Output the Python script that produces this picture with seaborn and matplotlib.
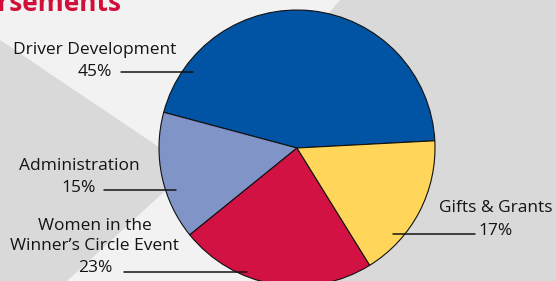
import matplotlib
matplotlib.use("Agg")
import matplotlib.pyplot as plt
import seaborn as sns
from matplotlib.patches import Polygon

# ---- data ----
categories = ["Driver Development", "Administration",
              "Women in the\nWinner\u2019s Circle Event", "Gifts & Grants"]
values = [45, 15, 23, 17]
colors = ["#0054A3", "#8094C8", "#D11242", "#FFD659"]
title = "Disbursements"

sns.set_theme(style="white")
plt.rcParams["font.family"] = ["Open Sans", "DejaVu Sans"]

W, H = 556, 281
fig = plt.figure(figsize=(W / 100, H / 100), dpi=100)
fig.patch.set_facecolor("#d9d9d9")
ax = fig.add_axes([0, 0, 1, 1])
ax.set_facecolor("#d9d9d9")


def Y(y):
    return H - y


# background light band
light = Polygon([(0, Y(0)), (340, Y(0)), (328, Y(14)), (270, Y(281)),
                 (67, Y(281)), (190, Y(168)), (0, Y(40))],
                closed=True, facecolor="#f2f2f2", edgecolor="none", zorder=0)
ax.add_patch(light)

cx, cy, r = 297, Y(148), 138
ax.pie(values, colors=colors, startangle=3, counterclock=True,
       center=(cx, cy), radius=r,
       wedgeprops=dict(edgecolor="#111111", linewidth=0.8), frame=True)

ax.set_xlim(0, W)
ax.set_ylim(0, H)
ax.set_aspect("equal")
ax.axis("off")

fs = 12.5
# label layout: (text center x, name center y, pct center y, line x0, x1, line y)
layout = [
    (95, 50, 72, 121, 193, 72),
    (79, 166, 188, 104, 176, 190),
    (95, 236, 268, 124, 247, 272),
    (496, 208, 231, 393, 475, 234),
]
for cat, val, (tx, ny, py, lx0, lx1, ly) in zip(categories, values, layout):
    ax.text(tx, Y(ny), cat, ha="center", va="center", fontsize=fs,
            color="#141414", linespacing=1.25)
    ax.text(tx, Y(py), f"{val}%", ha="center", va="center", fontsize=fs,
            color="#141414")
    ax.plot([lx0, lx1], [Y(ly), Y(ly)], color="#141414", lw=1.1)

ax.text(122, Y(11), title, ha="right", va="baseline", fontsize=19,
        fontweight="bold", color="#D0103A")

fig.savefig("out.png", dpi=100, facecolor=fig.get_facecolor())
